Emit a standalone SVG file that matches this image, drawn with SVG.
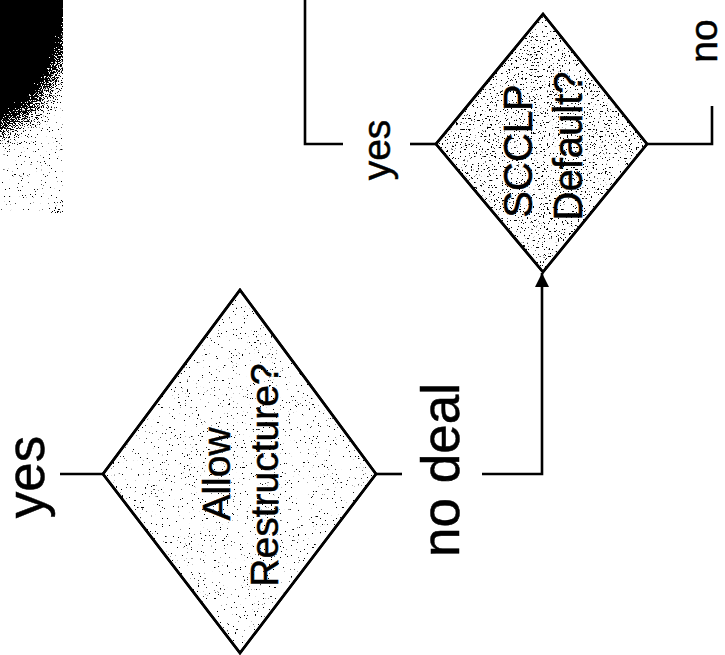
<svg xmlns="http://www.w3.org/2000/svg" width="725" height="655" viewBox="0 0 725 655">
  <style>
    .lbl { font-family: "Liberation Sans", Arial, sans-serif; fill: #000; stroke: #000; stroke-width: 0.5; text-anchor: middle; }
    .conn { fill: none; stroke: #000; stroke-width: 2.6; }
    .dia { stroke: #000; stroke-width: 2.6; }
  </style>
  <defs>
    <filter id="dither" x="0" y="0" width="1" height="1" color-interpolation-filters="sRGB">
      <feTurbulence type="fractalNoise" baseFrequency="0.85" numOctaves="2" seed="7" result="n0"/>
      <feColorMatrix in="n0" type="matrix" values="1 0 0 0 0  1 0 0 0 0  1 0 0 0 0  0 0 0 0 1" result="n"/>
      <feComposite in="SourceGraphic" in2="n" operator="arithmetic" k1="0" k2="1" k3="1" k4="-0.5" result="sum"/>
      <feColorMatrix in="sum" type="matrix" values="0 0 0 0 0  0 0 0 0 0  0 0 0 0 0  -25 0 0 0 12" result="dots"/>
      <feComposite in="dots" in2="SourceAlpha" operator="in"/>
    </filter>
    <filter id="speck" x="0" y="0" width="1" height="1" color-interpolation-filters="sRGB">
      <feTurbulence type="fractalNoise" baseFrequency="0.55" numOctaves="2" seed="11" result="n0"/>
      <feColorMatrix in="n0" type="matrix" values="1 0 0 0 0  1 0 0 0 0  1 0 0 0 0  0 0 0 0 1" result="n"/>
      <feComposite in="SourceGraphic" in2="n" operator="arithmetic" k1="0" k2="1" k3="1" k4="-0.5" result="sum"/>
      <feColorMatrix in="sum" type="matrix" values="0 0 0 0 0  0 0 0 0 0  0 0 0 0 0  -25 0 0 0 12" result="dots"/>
      <feComposite in="dots" in2="SourceAlpha" operator="in"/>
    </filter>
    <radialGradient id="blobG" gradientUnits="userSpaceOnUse" cx="0" cy="0" r="1" gradientTransform="translate(-20,-10) scale(110,170)">
      <stop offset="0" stop-color="#000"/>
      <stop offset="0.68" stop-color="#000"/>
      <stop offset="0.78" stop-color="#555"/>
      <stop offset="0.9" stop-color="#8a8a8a"/>
      <stop offset="1" stop-color="#b0b0b0"/>
    </radialGradient>
    <radialGradient id="blobG2" gradientUnits="userSpaceOnUse" cx="75" cy="225" r="70">
      <stop offset="0" stop-color="#606060"/>
      <stop offset="1" stop-color="#ffffff"/>
    </radialGradient>
    <marker id="arr" viewBox="0 0 14 14" refX="14" refY="7" markerWidth="14" markerHeight="14" markerUnits="userSpaceOnUse" orient="auto">
      <path d="M0,0 L14,7 L0,14 Z" fill="#000"/>
    </marker>
  </defs>

  <rect width="725" height="655" fill="#fff"/>

  <g id="blob">
    <rect x="0" y="0" width="63" height="213" fill="url(#blobG)" filter="url(#dither)"/>
    <rect x="0" y="130" width="63" height="83" fill="url(#blobG2)" filter="url(#dither)"/>
  </g>

  <g id="connectors">
    <path class="conn" d="M60,474 H103"/>
    <path class="conn" d="M376,474 H402"/>
    <path class="conn" d="M482,474 H542 V273" marker-end="url(#arr)"/>
    <path class="conn" d="M410,144 H436"/>
    <path class="conn" d="M343,144 H305 V0"/>
    <path class="conn" d="M647,144 H712 V106"/>
  </g>

  <g id="allow-restructure">
    <polygon class="dia" points="240,290 376,474 240,653 103,474" fill="#fff"/>
    <polygon points="240,290 376,474 240,653 103,474" fill="#b2b2b2" filter="url(#speck)"/>
    <polygon class="dia" points="240,290 376,474 240,653 103,474" fill="none"/>
    <text class="lbl" font-size="39" transform="translate(230,474) rotate(-90)">Allow</text>
    <text class="lbl" font-size="39" transform="translate(278,475) rotate(-90)">Restructure?</text>
  </g>

  <g id="scclp-default">
    <polygon class="dia" points="543,14 647,144 543,272 436,144" fill="#fff"/>
    <polygon points="543,14 647,144 543,272 436,144" fill="#a2a2a2" filter="url(#speck)"/>
    <polygon class="dia" points="543,14 647,144 543,272 436,144" fill="none"/>
    <text class="lbl" font-size="40" transform="translate(532,151) rotate(-90)">SCCLP</text>
    <text class="lbl" font-size="40" transform="translate(582,146) rotate(-90)">Default?</text>
  </g>

  <g id="labels">
    <text class="lbl" font-size="53" transform="translate(44,477) rotate(-90)">yes</text>
    <text class="lbl" font-size="53" transform="translate(459,470) rotate(-90)">no deal</text>
    <text class="lbl" font-size="39" transform="translate(390,150) rotate(-90)">yes</text>
    <text class="lbl" font-size="39" transform="translate(717,41) rotate(-90)">no</text>
  </g>
</svg>
